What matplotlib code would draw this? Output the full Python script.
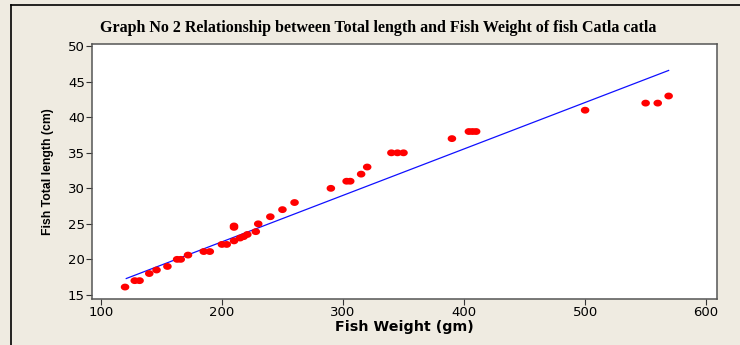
import matplotlib.pyplot as plt
from matplotlib.lines import Line2D
from matplotlib.path import Path
import numpy as np

# fish weight (gm) vs total length (cm)
weight = [120, 128, 132, 140, 146, 155, 163, 166, 172, 185, 190,
          200, 204, 210, 210, 210, 215, 218, 221, 228, 230, 240,
          250, 260, 290, 303, 306, 315, 320, 340, 345, 350, 390,
          404, 407, 410, 500, 550, 560, 569]
length = [16.1, 17.0, 17.0, 18.0, 18.5, 19.0, 20.0, 20.0, 20.6, 21.1, 21.1,
          22.1, 22.1, 24.7, 24.5, 22.6, 23.0, 23.2, 23.5, 23.9, 25.0, 26.0,
          27.0, 28.0, 30.0, 31.0, 31.0, 32.0, 33.0, 35.0, 35.0, 35.0, 37.0,
          38.0, 38.0, 38.0, 41.0, 42.0, 42.0, 43.0]

# fitted line end points
fit_x = [121, 569]
fit_y = [17.3, 46.6]

xticks = [100, 200, 300, 400, 500, 600]
yticks = [15, 20, 25, 30, 35, 40, 45, 50]

bg = '#efebe1'

# slightly wide dot, like the original
t = np.linspace(0, 2 * np.pi, 40)
dot = Path(np.column_stack([1.25 * np.cos(t), np.sin(t)]), closed=True)

fig = plt.figure(figsize=(7.4, 3.45), dpi=100, facecolor=bg)
ax = fig.add_axes([0.124, 0.133, 0.845, 0.739])
ax.set_facecolor('white')

ax.plot(fit_x, fit_y, color='#1010ff', linewidth=0.9, zorder=2)
ax.scatter(weight, length, marker=dot, s=38, color='#ff0000',
           edgecolors='none', zorder=3)

ax.set_xlim(92.5, 609)
ax.set_ylim(14.4, 50.3)
ax.set_xticks(xticks)
ax.set_yticks(yticks)
ax.tick_params(direction='out', length=4, width=0.8, colors='#333333',
               labelsize=9.5, labelcolor='black', pad=1)
for s in ax.spines.values():
    s.set_color('#555555')
    s.set_linewidth(1.1)

ax.set_xlabel('Fish Weight (gm)', fontsize=10.3, fontweight='bold', labelpad=1)
ax.set_ylabel('Fish Total length (cm)',
              family=['Liberation Sans', 'DejaVu Sans'],
              fontsize=8.8, fontweight='bold', labelpad=10)

fig.text(0.511, 0.918,
         'Graph No 2 Relationship between Total length and Fish Weight of fish Catla catla',
         ha='center', va='center', family=['Liberation Serif', 'DejaVu Serif'],
         fontsize=11.5, fontweight='bold')

# outer frame (left and top edges visible in the crop)
x0 = 10.5 / 740
y0 = 1 - 5 / 345
fig.add_artist(Line2D([x0, x0], [0, y0], transform=fig.transFigure,
                      color='black', linewidth=1.2))
fig.add_artist(Line2D([x0, 1], [y0, y0], transform=fig.transFigure,
                      color='black', linewidth=1.2))

fig.savefig('out.png', dpi=100, facecolor=bg)
